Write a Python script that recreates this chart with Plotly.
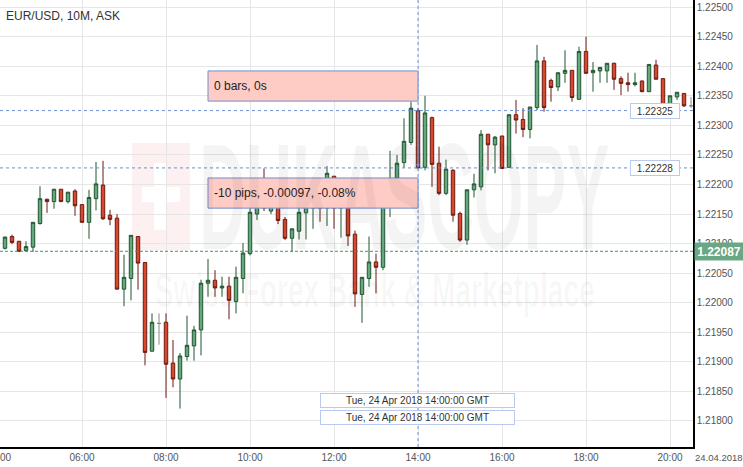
import pandas as pd
import plotly.graph_objects as go

# EUR/USD 10 minute bars, 24 Apr 2018, first bar 04:10
open_ = [1.22092, 1.22112, 1.22104, 1.22088, 1.22094, 1.22134, 1.22175, 1.22171, 1.22192, 1.22171,
         1.22189, 1.22166, 1.22136, 1.22176, 1.22199, 1.22148, 1.22143, 1.22023, 1.22041, 1.22112,
         1.22068, 1.21918, 1.21965, 1.21967, 1.21898, 1.21871, 1.21909, 1.21927, 1.21954, 1.22033,
         1.22038, 1.22025, 1.22028, 1.22002, 1.22041, 1.22083, 1.22150, 1.22185, 1.22155, 1.22180,
         1.22141, 1.22109, 1.22121, 1.22152, 1.22160, 1.22190, 1.22160, 1.22214, 1.22160, 1.22190,
         1.22116, 1.22014, 1.22041, 1.22069, 1.22060, 1.22165, 1.22211, 1.22237, 1.22271, 1.22325,
         1.22229, 1.22313, 1.22236, 1.22185, 1.22224, 1.22151, 1.22106, 1.22191, 1.22196, 1.22285,
         1.22267, 1.22282, 1.22229, 1.22318, 1.22310, 1.22293, 1.22330, 1.22409, 1.22376, 1.22365,
         1.22388, 1.22393, 1.22344, 1.22425, 1.22389, 1.22392, 1.22392, 1.22405, 1.22379, 1.22372,
         1.22369, 1.22375, 1.22357, 1.22402, 1.22379, 1.22336, 1.22348, 1.22354, 1.22333]
high = [1.22112, 1.22115, 1.22104, 1.22104, 1.22136, 1.22197, 1.22176, 1.22192, 1.22192, 1.22187,
        1.22192, 1.22166, 1.22191, 1.22238, 1.22240, 1.22157, 1.22150, 1.22081, 1.22114, 1.22112,
        1.22068, 1.21982, 1.21982, 1.21982, 1.21937, 1.21915, 1.21978, 1.21961, 1.22039, 1.22074,
        1.22055, 1.22044, 1.22044, 1.22061, 1.22101, 1.22165, 1.22200, 1.22227, 1.22195, 1.22190,
        1.22145, 1.22125, 1.22170, 1.22195, 1.22200, 1.22200, 1.22231, 1.22214, 1.22200, 1.22200,
        1.22122, 1.22043, 1.22112, 1.22083, 1.22191, 1.22257, 1.22250, 1.22312, 1.22340, 1.22329,
        1.22350, 1.22315, 1.22264, 1.22242, 1.22226, 1.22154, 1.22191, 1.22218, 1.22292, 1.22285,
        1.22282, 1.22282, 1.22318, 1.22343, 1.22329, 1.22331, 1.22436, 1.22416, 1.22379, 1.22389,
        1.22427, 1.22393, 1.22433, 1.22450, 1.22407, 1.22398, 1.22405, 1.22406, 1.22383, 1.22389,
        1.22389, 1.22376, 1.22403, 1.22411, 1.22379, 1.22350, 1.22356, 1.22354, 1.22348]
low = [1.22090, 1.22099, 1.22086, 1.22087, 1.22086, 1.22132, 1.22152, 1.22159, 1.22171, 1.22168,
       1.22147, 1.22136, 1.22108, 1.22156, 1.22140, 1.22131, 1.22023, 1.21994, 1.22004, 1.22022,
       1.21894, 1.21918, 1.21929, 1.21839, 1.21857, 1.21821, 1.21902, 1.21902, 1.21911, 1.22010,
       1.22010, 1.22010, 1.21972, 1.21982, 1.22016, 1.22080, 1.22140, 1.22155, 1.22150, 1.22133,
       1.22106, 1.22086, 1.22107, 1.22107, 1.22125, 1.22137, 1.22130, 1.22125, 1.22110, 1.22096,
       1.21993, 1.21966, 1.22027, 1.22016, 1.22055, 1.22145, 1.22174, 1.22228, 1.22267, 1.22227,
       1.22224, 1.22196, 1.22182, 1.22182, 1.22137, 1.22103, 1.22098, 1.22178, 1.22190, 1.22224,
       1.22219, 1.22227, 1.22229, 1.22286, 1.22280, 1.22278, 1.22326, 1.22323, 1.22340, 1.22358,
       1.22372, 1.22340, 1.22344, 1.22388, 1.22357, 1.22372, 1.22372, 1.22360, 1.22351, 1.22357,
       1.22366, 1.22356, 1.22357, 1.22378, 1.22330, 1.22330, 1.22343, 1.22331, 1.22330]
close = [1.22111, 1.22102, 1.22087, 1.22095, 1.22136, 1.22176, 1.22171, 1.22192, 1.22171, 1.22187,
         1.22164, 1.22136, 1.22178, 1.22201, 1.22142, 1.22141, 1.22023, 1.22043, 1.22114, 1.22067,
         1.21916, 1.21967, 1.21965, 1.21896, 1.21871, 1.21910, 1.21928, 1.21954, 1.22033, 1.22038,
         1.22025, 1.22028, 1.22004, 1.22043, 1.22084, 1.22153, 1.22185, 1.22160, 1.22180, 1.22139,
         1.22109, 1.22125, 1.22153, 1.22180, 1.22185, 1.22160, 1.22219, 1.22160, 1.22190, 1.22113,
         1.22015, 1.22043, 1.22069, 1.22060, 1.22177, 1.22207, 1.22236, 1.22273, 1.22329, 1.22228,
         1.22321, 1.22234, 1.22185, 1.22226, 1.22148, 1.22106, 1.22191, 1.22201, 1.22285, 1.22267,
         1.22280, 1.22227, 1.22318, 1.22309, 1.22293, 1.22331, 1.22409, 1.22330, 1.22364, 1.22389,
         1.22393, 1.22347, 1.22425, 1.22388, 1.22393, 1.22398, 1.22405, 1.22378, 1.22371, 1.22369,
         1.22372, 1.22357, 1.22403, 1.22378, 1.22334, 1.22350, 1.22356, 1.22333, 1.22333]

first_bar = '2018-04-24 04:10'

# measurement tool + price lines
measure_from = 1.22325
measure_to = 1.22228
last_price = 1.22087
measure_time = '2018-04-24 14:00'
measure_start = '2018-04-24 09:00'
measure_text = ['0 bars, 0s', '-10 pips, -0.00097, -0.08%']
time_label = 'Tue, 24 Apr 2018 14:00:00 GMT'

df = pd.DataFrame(dict(open=open_, high=high, low=low, close=close))
df['time'] = pd.date_range(first_bar, periods=len(df), freq='10min')
doji = df['open'] == df['close']

W, H = 693, 447   # plot area in px


def px(x):
    return x / W


def py(y):
    return 1 - y / H


fig = go.Figure()

fig.add_trace(go.Candlestick(
    x=df.loc[~doji, 'time'], open=df.loc[~doji, 'open'], high=df.loc[~doji, 'high'],
    low=df.loc[~doji, 'low'], close=df.loc[~doji, 'close'],
    increasing=dict(fillcolor='#66a77e', line=dict(color='#1f5630', width=1)),
    decreasing=dict(fillcolor='#d7482f', line=dict(color='#6b1b10', width=1)),
    whiskerwidth=0, showlegend=False, name=''))

fig.add_trace(go.Candlestick(
    x=df.loc[doji, 'time'], open=df.loc[doji, 'open'], high=df.loc[doji, 'high'],
    low=df.loc[doji, 'low'], close=df.loc[doji, 'close'],
    increasing=dict(fillcolor='#888', line=dict(color='#888', width=1)),
    decreasing=dict(fillcolor='#888', line=dict(color='#888', width=1)),
    whiskerwidth=0, showlegend=False, name=''))

blue = '#6f8fd3'
pink = '#ffcbc5'
shapes = [
    # watermark logo
    dict(type='rect', xref='paper', yref='paper', x0=px(132), x1=px(190), y0=py(250), y1=py(143),
         fillcolor='#fdf0f0', line_width=0, layer='below'),
    dict(type='rect', xref='paper', yref='paper', x0=px(154), x1=px(167), y0=py(230), y1=py(163),
         fillcolor='#ffffff', line_width=0, layer='below'),
    dict(type='rect', xref='paper', yref='paper', x0=px(142), x1=px(180), y0=py(202), y1=py(187),
         fillcolor='#ffffff', line_width=0, layer='below'),
    # price lines
    dict(type='line', xref='paper', x0=0, x1=1, y0=measure_from, y1=measure_from,
         line=dict(color=blue, width=1, dash='dot')),
    dict(type='line', xref='paper', x0=0, x1=1, y0=measure_to, y1=measure_to,
         line=dict(color=blue, width=1, dash='dot')),
    dict(type='line', yref='paper', x0=measure_time, x1=measure_time, y0=0, y1=1,
         line=dict(color=blue, width=1, dash='dot')),
    dict(type='line', xref='paper', x0=0, x1=1, y0=last_price, y1=last_price,
         line=dict(color='#3f9a64', width=1, dash='3px,2px')),
    # measurement boxes
    dict(type='rect', x0=measure_start, x1=measure_time, y0=1.22341, y1=1.22392,
         fillcolor=pink, line=dict(color=blue, width=1)),
    dict(type='rect', x0=measure_start, x1=measure_time, y0=1.22160, y1=1.22211,
         fillcolor=pink, line=dict(color=blue, width=1)),
]

font = 'Liberation Sans, Arial, sans-serif'
label_box = dict(showarrow=False, bgcolor='#fff', bordercolor='#b9c9ef', borderwidth=1,
                 xanchor='center', yanchor='middle')
annotations = [
    dict(text='DUKASCOPY', xref='paper', yref='paper', x=px(404), y=py(197), showarrow=False,
         xanchor='center', yanchor='middle',
         font=dict(family=font, size=150, color='rgba(0,0,0,0.045)', weight='bold')),
    dict(text='Swiss Forex Bank & Marketplace', xref='paper', yref='paper', x=px(375), y=py(290),
         showarrow=False, xanchor='center', yanchor='middle',
         font=dict(family=font, size=48, color='rgba(0,0,0,0.035)', weight='bold')),
    dict(text='EUR/USD, 10M, ASK', xref='paper', yref='paper', x=px(4), y=py(16),
         xanchor='left', yanchor='middle', showarrow=False,
         font=dict(family=font, size=12, color='#333')),
    dict(text=measure_text[0], xref='paper', x=px(212), y=(1.22341 + 1.22392) / 2,
         xanchor='left', yanchor='middle', showarrow=False,
         font=dict(family=font, size=12, color='#222')),
    dict(text=measure_text[1], xref='paper', x=px(212), y=(1.22160 + 1.22211) / 2,
         xanchor='left', yanchor='middle', showarrow=False,
         font=dict(family=font, size=12, color='#222')),
    dict(text='', x=measure_time, y=measure_to, ax=measure_time, ay=measure_from,
         axref='x', ayref='y', showarrow=True, arrowhead=2, arrowsize=0.8, arrowwidth=1,
         arrowcolor=blue),
    dict(text=f'{measure_from:.5f}', xref='paper', x=px(655), y=measure_from,
         width=46, height=12, font=dict(family=font, size=10, color='#333'), **label_box),
    dict(text=f'{measure_to:.5f}', xref='paper', x=px(655), y=measure_to,
         width=46, height=12, font=dict(family=font, size=10, color='#333'), **label_box),
    dict(text=f'<b>{last_price:.5f}</b>', xref='paper', x=px(694), y=last_price,
         xanchor='left', yanchor='middle', showarrow=False, width=48, height=17,
         bgcolor='#6aa784', borderpad=0, font=dict(family=font, size=12, color='#fff')),
    dict(text=time_label, xref='paper', yref='paper', x=px(417.5), y=py(400.5),
         width=191, height=11, font=dict(family=font, size=10, color='#333'), **label_box),
    dict(text=time_label, xref='paper', yref='paper', x=px(417.5), y=py(417.5),
         width=191, height=11, font=dict(family=font, size=10, color='#333'), **label_box),
    # 04:00 tick sits just left of the plot, only its tail shows
    dict(text='04:00', xref='paper', yref='paper', x=px(-2), y=py(458), showarrow=False,
         xanchor='center', yanchor='middle', font=dict(family=font, size=10, color='#555')),
    dict(text='24.04.2018', xref='paper', yref='paper', x=px(693), y=py(458),
         xanchor='left', yanchor='middle', showarrow=False,
         font=dict(family=font, size=9.5, color='#555')),
]

fig.update_layout(
    width=743, height=467,
    margin=dict(l=0, r=50, t=0, b=20),
    paper_bgcolor='#fff', plot_bgcolor='#fff',
    font=dict(family=font),
    shapes=shapes, annotations=annotations,
    hovermode=False, showlegend=False)

fig.update_xaxes(
    type='date', range=['2018-04-24 04:02:51', '2018-04-24 20:32:51'],
    tick0='2018-04-24 00:00', dtick=7200000, tickformat='%H:%M',
    showgrid=True, gridcolor='#e6e6e6', gridwidth=1, zeroline=False,
    showline=True, linecolor='#000', linewidth=1.5, ticks='',
    tickfont=dict(size=10, color='#555'), rangeslider_visible=False)

fig.update_yaxes(
    side='right', range=[1.21756, 1.22512], tick0=1.218, dtick=0.0005, tickformat='.5f',
    showgrid=True, gridcolor='#e6e6e6', gridwidth=1, zeroline=False,
    showline=True, linecolor='#000', linewidth=1.5, ticks='',
    tickfont=dict(size=10, color='#555'))

# page has no body margin; squeeze the watermark lettering like the original logo
post = """
document.body.style.margin = '0';
var gd = document.getElementById('{plot_id}');
gd.querySelectorAll('.annotation-text').forEach(function (t) {
    if (t.textContent === 'DUKASCOPY') {
        t.setAttribute('textLength', 410); t.setAttribute('lengthAdjust', 'spacingAndGlyphs');
    }
    if (t.textContent.indexOf('Swiss') === 0) {
        t.setAttribute('textLength', 440); t.setAttribute('lengthAdjust', 'spacingAndGlyphs');
    }
});
"""

fig.write_html("out.html", post_script=post, config={'displayModeBar': False})
